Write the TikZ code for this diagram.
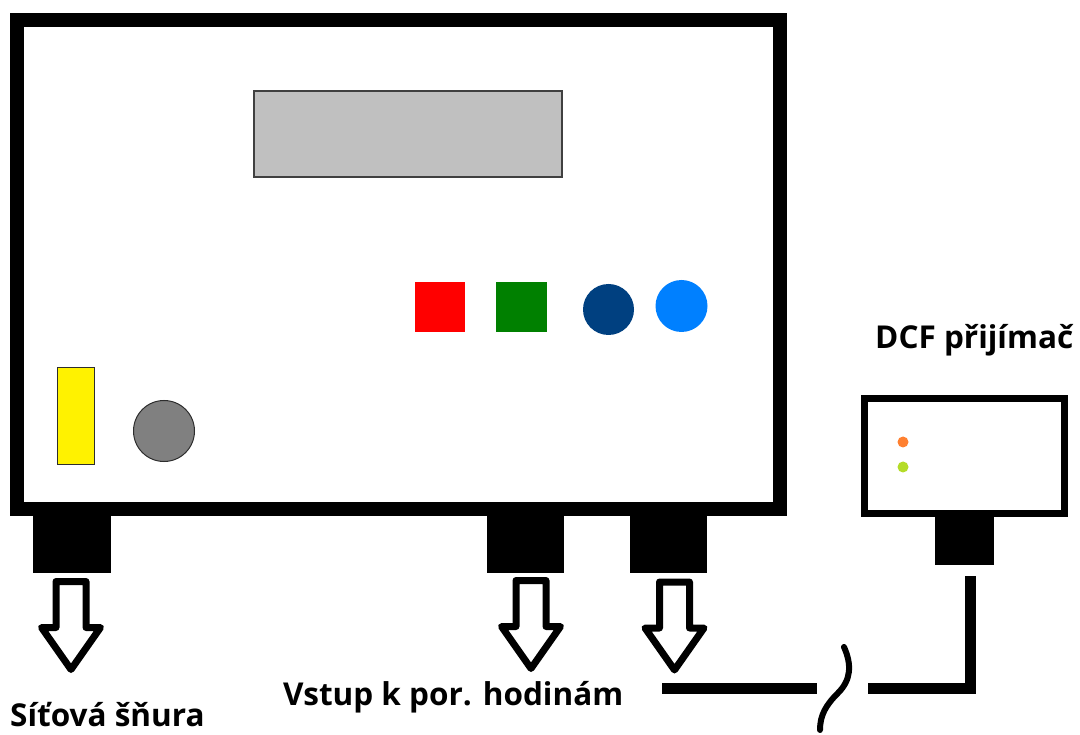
\documentclass[tikz,border=0pt]{standalone}
\usepackage{fontspec}
\setmainfont{Open Sans}
\definecolor{scrgray}{RGB}{192,192,192}
\definecolor{scredge}{RGB}{64,64,64}
\definecolor{btngreen}{RGB}{0,128,0}
\definecolor{btndblue}{RGB}{0,64,128}
\definecolor{btnlblue}{RGB}{0,128,255}
\definecolor{knobgray}{RGB}{128,128,128}
\definecolor{darkedge}{RGB}{45,45,45}
\definecolor{ledorange}{RGB}{255,128,48}
\definecolor{ledgreen}{RGB}{180,220,40}
\begin{document}
\begin{tikzpicture}[x=1pt,y=-1pt,
  lbl/.style={font=\fontsize{31.5}{36}\selectfont\bfseries, inner sep=0pt, anchor=base west},
  plug/.style={fill=black, draw=none},
  hollow/.style={draw=black, line width=7pt, line join=round, fill=white},
  cable/.style={line width=11pt, line join=miter}]
\useasboundingbox[fill=white] (0,0) rectangle (1080,735);
% main box
\draw[line width=14pt] (17,20.5) rectangle (780,509);
% display
\draw[fill=scrgray, draw=scredge, line width=1.2pt] (254,91) rectangle (562,177);
% buttons
\fill[red] (415,282) rectangle (465,332);
\fill[btngreen] (496,282) rectangle (547,332);
\fill[btndblue] (608.5,309.5) circle[radius=25.5pt];
\fill[btnlblue] (681.5,306) circle[radius=26pt];
\draw[fill=yellow, draw=darkedge, line width=1pt] (57,368) rectangle (94,465);
\draw[fill=knobgray, draw=darkedge, line width=1pt] (164,431) circle[radius=30.5pt];
% plugs
\fill[plug] (33,515) rectangle (111,573);
\fill[plug] (487,515) rectangle (564,573);
\fill[plug] (630,515) rectangle (707,573);
% hollow arrows
\foreach \cx/\ty in {71/581.5, 531/580.5, 674.5/582} {
  \draw[hollow] (\cx-15,\ty) -- (\cx+15,\ty) -- (\cx+15,\ty+46) -- (\cx+29.5,\ty+46)
     -- (\cx,\ty+88) -- (\cx-29.5,\ty+46) -- (\cx-15,\ty+46) -- cycle;
}
% receiver
\draw[line width=7pt] (864.5,398.5) rectangle (1064.5,513.5);
\fill[plug] (935,517) rectangle (994,565);
\fill[ledorange] (903,442) circle[radius=5.5pt];
\fill[ledgreen] (903,467) circle[radius=5.5pt];
% cable
\draw[cable] (970,576) -- (970,688.5) -- (868,688.5);
\draw[cable] (662,688.5) -- (817,688.5);
\draw[line width=6pt, line cap=round] (844,647) .. controls (852,665) and (851,680) .. (838,693) .. controls (826,705) and (820,715) .. (820,730);
% labels
\node[lbl] (sit) at (10,726) {Síťová šňura};
\node[lbl] (vst) at (283,705) {Vstup k por. hodinám};
\node[lbl] (dcf) at (875,349) {DCF přijímač};
\end{tikzpicture}
\end{document}
